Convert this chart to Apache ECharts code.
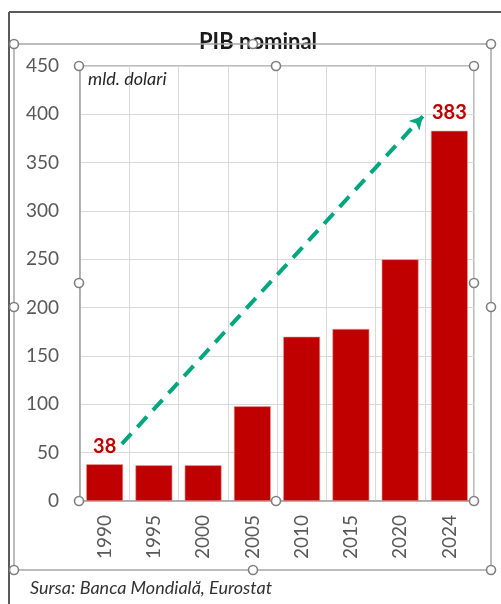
<!DOCTYPE html>
<html>
<head>
<meta charset="utf-8">
<script src="https://cdn.jsdelivr.net/npm/echarts@6/dist/echarts.min.js"></script>
<style>
html,body{margin:0;padding:0;background:#fff;}
#c{width:501px;height:604px;}
</style>
</head>
<body>
<div id="c"></div>
<script>
// ---- data ----
const years = ['1990','1995','2000','2005','2010','2015','2020','2024'];
const gdp = [38, 37, 37, 98, 170, 178, 250, 383];
const labelledYears = ['1990','2024'];
const yTicks = {min: 0, max: 450, step: 50};
const arrowStart = [0.85, 59];   // [category position, value]
const arrowEnd = [6.96, 398];
const titleText = 'PIB nominal';
const unitText = 'mld. dolari';
const sourceText = 'Sursa: Banca Mondială, Eurostat';

const FONT = 'Lato';
const chart = echarts.init(document.getElementById('c'), null, {renderer: 'canvas'});

const handle = (x, y) => ({
  type: 'circle', shape: {cx: x, cy: y, r: 4.5}, z: 100,
  style: {fill: '#fff', stroke: '#7f7f7f', lineWidth: 1.6}
});
const hline = (x1, x2, y, color, w) => ({type: 'line', z: 50, shape: {x1, y1: y, x2, y2: y}, style: {stroke: color, lineWidth: w}});
const vline = (x, y1, y2, color, w) => ({type: 'line', z: 50, shape: {x1: x, y1, x2: x, y2}, style: {stroke: color, lineWidth: w}});

chart.setOption({
  animation: false,
  backgroundColor: '#fff',
  title: {
    text: titleText, left: 199, top: 31, padding: 0,
    textStyle: {fontFamily: FONT, fontSize: 22, fontWeight: 'bold', color: '#1a1a1a'}
  },
  grid: {left: 80, right: 27, top: 66, bottom: 103, show: true, borderColor: '#a6a6a6', borderWidth: 1.5},
  xAxis: [{
    type: 'category', data: years,
    axisLine: {show: true, lineStyle: {color: '#a6a6a6', width: 1.5}},
    axisTick: {show: false},
    splitLine: {show: true, interval: 0, lineStyle: {color: '#d9d9d9', width: 1}},
    axisLabel: {rotate: 90, margin: 14, fontFamily: FONT, fontSize: 19, color: '#595959', interval: 0}
  }, {
    type: 'value', min: 0, max: years.length, show: false
  }],
  yAxis: {
    type: 'value', min: yTicks.min, max: yTicks.max, interval: yTicks.step,
    axisLine: {show: true, lineStyle: {color: '#a6a6a6', width: 1.5}},
    axisTick: {show: false},
    splitLine: {lineStyle: {color: '#d9d9d9', width: 1}},
    axisLabel: {margin: 21, fontFamily: FONT, fontSize: 19, color: '#595959'}
  },
  series: [{
    type: 'bar', data: gdp.map((v, i) => ({
      value: v,
      label: {show: labelledYears.includes(years[i])}
    })),
    barCategoryGap: '25%',
    itemStyle: {color: '#c00000', borderColor: '#e9a3a3', borderWidth: 0.6},
    label: {
      position: 'top', distance: 8,
      fontFamily: FONT, fontSize: 20, fontWeight: 'bold', color: '#c00000'
    },
    z: 2
  }, {
    type: 'line', xAxisIndex: 1, data: [], silent: true,
    markLine: {
      silent: true, animation: false,
      symbol: ['none', 'arrow'], symbolSize: [11, 13],
      label: {show: false},
      lineStyle: {color: '#00a67e', width: 4, type: [14, 9]},
      data: [[{coord: arrowStart}, {coord: arrowEnd}]]
    },
    z: 5
  }],
  graphic: [
    // outer frame
    hline(9, 501, 12, '#5a5a5a', 2),
    vline(9, 12, 604, '#5a5a5a', 2),
    // chart area selection box
    hline(14, 491, 44, '#a6a6a6', 1.5),
    vline(14, 44, 570, '#a6a6a6', 1.5),
    vline(491, 44, 570, '#a6a6a6', 1.5),
    hline(14, 491, 570, '#a6a6a6', 1.5),
    handle(14, 44), handle(253, 44), handle(491, 44),
    handle(14, 307), handle(491, 307),
    handle(14, 570), handle(253, 570), handle(491, 570),
    // plot area handles
    handle(79, 66), handle(276, 66), handle(474, 66),
    handle(79, 283), handle(474, 283),
    handle(79, 501), handle(276, 501), handle(474, 501),
    {
      type: 'text', left: 88, top: 70, z: 60,
      style: {text: unitText, font: 'italic 18px Lato', fill: '#262626'}
    },
    {
      type: 'text', left: 30, top: 579, z: 60,
      style: {text: sourceText, font: 'italic 18px Lato', fill: '#333333'}
    }
  ]
});
</script>
</body>
</html>
